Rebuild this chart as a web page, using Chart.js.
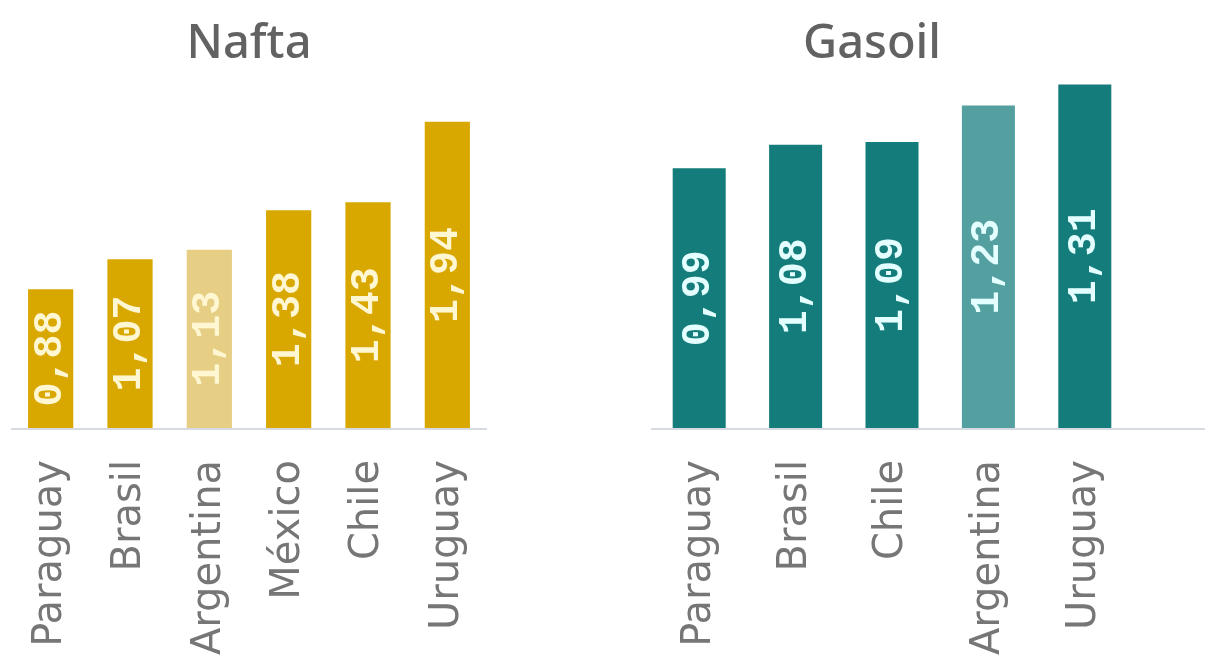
<!DOCTYPE html>
<html>
<head>
<meta charset="utf-8">
<script src="https://cdn.jsdelivr.net/npm/chart.js@4.4.1/dist/chart.umd.min.js"></script>
<style>
    html, body { margin: 0; padding: 0; background: #fff; }
    #wrap { position: relative; width: 1205px; height: 661px; overflow: hidden; }
    #nafta-box { position: absolute; left: 0; top: 0; width: 600px; height: 661px; }
    #gasoil-box { position: absolute; left: 600px; top: 0; width: 605px; height: 661px; }
</style>
</head>
<body>
<div id="wrap">
    <div id="nafta-box"><canvas id="nafta"></canvas></div>
    <div id="gasoil-box"><canvas id="gasoil"></canvas></div>
</div>
<script>
var naftaCountries = ["Paraguay", "Brasil", "Argentina", "México", "Chile", "Uruguay"];
var naftaPrices = [0.88, 1.07, 1.13, 1.38, 1.43, 1.94];

var gasoilCountries = ["Paraguay", "Brasil", "Chile", "Argentina", "Uruguay"];
var gasoilPrices = [0.99, 1.08, 1.09, 1.23, 1.31];

var highlighted = "Argentina";

// value written sideways in the middle of each bar
var valueLabels = {
    id: "valueLabels",
    afterDatasetsDraw: function(chart, args, opts)
    {
        var ctx = chart.ctx;
        var values = chart.data.datasets[0].data;
        ctx.save();
        ctx.font = "bold 40px 'Liberation Mono'";
        ctx.fillStyle = opts.color;
        ctx.textAlign = "center";
        ctx.textBaseline = "middle";
        chart.getDatasetMeta(0).data.forEach(function(bar, i)
        {
            ctx.save();
            ctx.translate(bar.x, (bar.y + bar.base) / 2);
            ctx.rotate(-Math.PI / 2);
            ctx.fillText(values[i].toFixed(2).replace(".", ","), 0, 0);
            ctx.restore();
        });
        ctx.restore();
    }
};

var baseline = {
    id: "baseline",
    beforeDatasetsDraw: function(chart, args, opts)
    {
        var ctx = chart.ctx;
        var area = chart.chartArea;
        var y = chart.scales.y.getPixelForValue(0) + 1;
        ctx.save();
        ctx.strokeStyle = "#d6dbe1";
        ctx.lineWidth = 2;
        ctx.beginPath();
        ctx.moveTo(area.left, y);
        ctx.lineTo(opts.extend ? chart.width : area.right, y);
        ctx.stroke();
        ctx.restore();
    }
};

var FuelCharts =
{
    init: function()
    {
        FuelCharts.draw("nafta", "Nafta", naftaCountries, naftaPrices, {
            bar: "#d9a800", light: "#e6cf85", text: "#fff6d2",
            max: 2.0, titleBottom: 40, padLeft: 11, padRight: 113, yWidth: 0,
            barPercentage: 0.57, extend: false
        });
        FuelCharts.draw("gasoil", "Gasoil", gasoilCountries, gasoilPrices, {
            bar: "#147c7a", light: "#54a0a1", text: "#e4ffff",
            max: 1.35, titleBottom: 1.5, padLeft: 11, padRight: 72, yWidth: 40,
            barPercentage: 0.55, extend: true
        });
    },

    draw: function(id, title, labels, values, o)
    {
        var colors = labels.map(function(name)
        {
            return name == highlighted ? o.light : o.bar;
        });

        new Chart(document.getElementById(id), {
            type: "bar",
            data: {
                labels: labels,
                datasets: [{
                    data: values,
                    backgroundColor: colors,
                    borderWidth: 0,
                    barPercentage: o.barPercentage,
                    categoryPercentage: 1
                }]
            },
            options: {
                responsive: true,
                maintainAspectRatio: false,
                animation: false,
                layout: { padding: { left: o.padLeft, right: o.padRight, top: 0, bottom: 0 } },
                plugins: {
                    legend: { display: false },
                    tooltip: { enabled: false },
                    title: {
                        display: true,
                        text: title,
                        color: "#626262",
                        font: { family: "'Noto Sans'", size: 47, weight: "500" },
                        padding: { top: 16, bottom: o.titleBottom }
                    },
                    valueLabels: { color: o.text },
                    baseline: { extend: o.extend }
                },
                scales: {
                    x: {
                        grid: { display: false, drawTicks: false },
                        border: { display: false },
                        ticks: {
                            minRotation: 90,
                            maxRotation: 90,
                            padding: 32,
                            color: "#767676",
                            font: { family: "'DejaVu Sans'", size: 40 }
                        },
                        afterFit: function(scale) { scale.height = 233; }
                    },
                    y: {
                        display: o.yWidth > 0,
                        min: 0,
                        max: o.max,
                        grid: { display: false },
                        border: { display: false },
                        ticks: { display: false },
                        afterFit: function(scale) { scale.width = o.yWidth; }
                    }
                }
            },
            plugins: [valueLabels, baseline]
        });
    }
};
FuelCharts.init();
</script>
</body>
</html>
